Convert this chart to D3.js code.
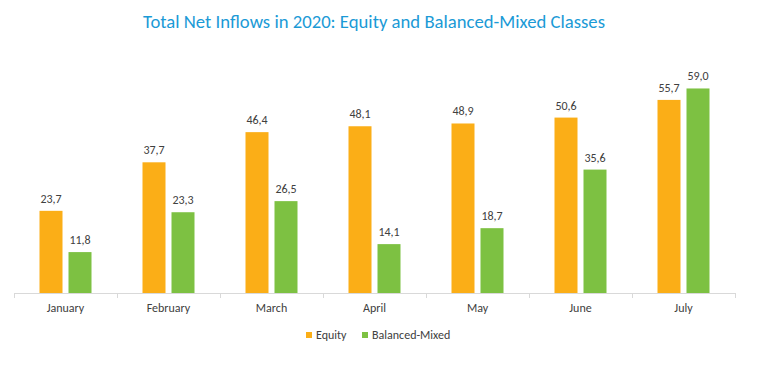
<!DOCTYPE html>
<html><head><meta charset="utf-8">
<script src="https://cdn.jsdelivr.net/npm/d3@7"></script>
<style>body{margin:0;background:#fff;}svg{display:block;}</style>
</head><body>
<script>
const months = ["January","February","March","April","May","June","July"];
const equity = [23.7,37.7,46.4,48.1,48.9,50.6,55.7];
const balanced = [11.8,23.3,26.5,14.1,18.7,35.6,59.0];
const seriesNames = ["Equity","Balanced-Mixed"];
const colors = ["#FBAE17","#7DC142"];
const title = "Total Net Inflows in 2020: Equity and Balanced-Mixed Classes";

const W=768,H=373;
const svg=d3.select("body").append("svg").attr("width",W).attr("height",H);
const font="Carlito, Calibri, 'Open Sans', sans-serif";
svg.append("text").attr("x",374).attr("y",28).attr("text-anchor","middle")
  .attr("fill","#1B9AD6").style("font-family",font).style("font-size","19px")
  .attr("textLength",462).attr("lengthAdjust","spacingAndGlyphs").text(title);

const x=d3.scaleBand().domain(months).range([14,735]).padding(0);
const y=d3.scaleLinear().domain([0,60]).range([293,85]);
const bw=23, gap=6;
const data=months.map((m,i)=>({m,vals:[equity[i],balanced[i]]}));
const g=svg.append("g");
data.forEach(d=>{
  const c=x(d.m)+x.bandwidth()/2;
  d.vals.forEach((v,j)=>{
    const x0 = j===0 ? c-gap/2-bw : c+gap/2;
    g.append("rect").attr("x",x0).attr("y",y(v)).attr("width",bw).attr("height",y(0)-y(v)).attr("fill",colors[j]);
    g.append("text").attr("x",x0+bw/2).attr("y",y(v)-8).attr("text-anchor","middle")
      .attr("fill","#404040").style("font-family",font).style("font-size","12px")
      .text(v.toFixed(1).replace(".",","));
  });
});
// axis
const ax=svg.append("g").attr("transform","translate(0,293)");
ax.append("line").attr("x1",14).attr("x2",735).attr("y1",0.5).attr("y2",0.5).attr("stroke","#d9d9d9");
const ticks=months.map(m=>x(m)).concat([735]);
ax.selectAll("line.t").data(ticks).enter().append("line").attr("class","t")
  .attr("x1",d=>Math.round(d)+0.5).attr("x2",d=>Math.round(d)+0.5).attr("y1",0).attr("y2",5).attr("stroke","#d9d9d9");
ax.selectAll("text").data(months).enter().append("text")
  .attr("x",d=>x(d)+x.bandwidth()/2).attr("y",19).attr("text-anchor","middle")
  .attr("fill","#404040").style("font-family",font).style("font-size","12px").text(d=>d);
// legend
const leg=svg.append("g");
const lx=[306,362];
seriesNames.forEach((n,i)=>{
  leg.append("rect").attr("x",lx[i]).attr("y",332).attr("width",6).attr("height",6).attr("fill",colors[i]);
  leg.append("text").attr("x",lx[i]+10).attr("y",339).attr("fill","#404040")
    .style("font-family",font).style("font-size","12px").text(n);
});
</script>
</body></html>
